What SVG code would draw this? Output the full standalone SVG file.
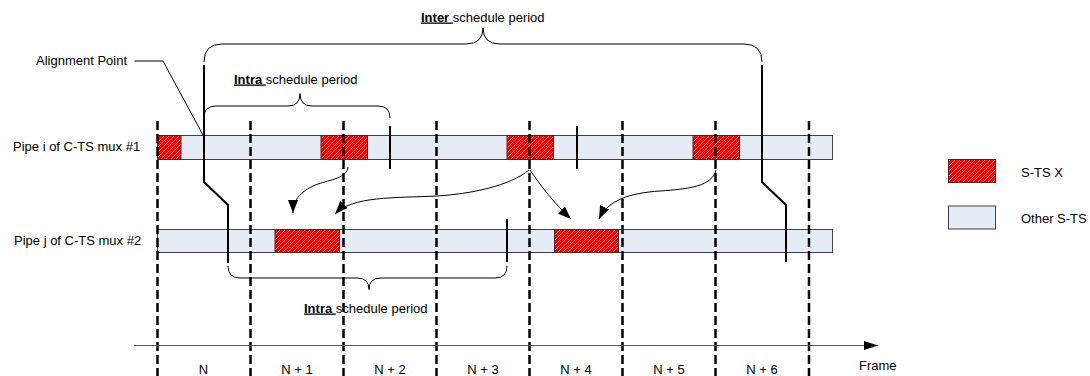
<svg xmlns="http://www.w3.org/2000/svg" width="1090" height="376" viewBox="0 0 1090 376">
<defs>
<pattern id="hatch" patternUnits="userSpaceOnUse" width="5" height="5">
<rect width="5" height="5" fill="#FF0000"/>
<path d="M-1,6 L6,-1 M-1,1 L1,-1 M4,6 L6,4" stroke="#FFB0B0" stroke-width="0.7"/>
</pattern>
<marker id="ah" markerUnits="userSpaceOnUse" markerWidth="13" markerHeight="10" refX="13" refY="5" orient="auto">
<path d="M0,0 L13,5 L0,10 z" fill="#000"/>
</marker>
<marker id="axh" markerUnits="userSpaceOnUse" markerWidth="14" markerHeight="9" refX="14" refY="4.5" orient="auto">
<path d="M0,0 L14,4.5 L0,9 z" fill="#000"/>
</marker>
</defs>
<style>
text{font-family:"Liberation Sans",Arial,sans-serif;font-size:13px;fill:#000}
.pipe{fill:#E6ECF6;stroke:#404040;stroke-width:1}
.sts{fill:url(#hatch);stroke:#303030;stroke-width:1}
.dash{stroke:#000;stroke-width:2.5;stroke-dasharray:9 4;fill:none}
.thick{stroke:#000;stroke-width:2;fill:none}
.thin{stroke:#000;stroke-width:1;fill:none}
.arr{stroke:#000;stroke-width:1;fill:none;marker-end:url(#ah)}
.b{font-weight:bold;text-decoration:underline}
.mid{text-anchor:middle}
</style>

<g id="pipe1">
<rect class="pipe" x="157.5" y="135.5" width="675" height="24"/>
<rect class="sts" x="157.5" y="135.5" width="23.5" height="24"/>
<rect class="sts" x="321" y="135.5" width="46.5" height="24"/>
<rect class="sts" x="507" y="135.5" width="46.5" height="24"/>
<rect class="sts" x="693" y="135.5" width="46.5" height="24"/>
<text x="13" y="151">Pipe i of C-TS mux #1</text>
</g>

<g id="pipe2">
<rect class="pipe" x="157.5" y="229.5" width="675" height="23"/>
<rect class="sts" x="275" y="229.5" width="64.5" height="23"/>
<rect class="sts" x="554.5" y="229.5" width="64" height="23"/>
<text x="14" y="245">Pipe j of C-TS mux #2</text>
</g>

<g id="frames">
<path class="dash" d="M157.5,121 V376 M250.5,121 V376 M343.5,121 V376 M436.5,121 V376 M529.5,121 V376 M622.5,121 V376 M715.5,121 V376 M809,121 V376"/>
<text class="mid" x="203.5" y="374">N</text>
<text class="mid" x="297" y="374">N + 1</text>
<text class="mid" x="390" y="374">N + 2</text>
<text class="mid" x="483" y="374">N + 3</text>
<text class="mid" x="576" y="374">N + 4</text>
<text class="mid" x="669" y="374">N + 5</text>
<text class="mid" x="762" y="374">N + 6</text>
</g>

<g id="axis">
<path d="M134,345.5 L878,345.5" stroke="#555" stroke-width="1.2" fill="none" marker-end="url(#axh)"/>
<text x="859" y="369.5">Frame</text>
</g>

<g id="inter-period">
<path class="thin" d="M204,62 Q204,44 222,44 L466,44 Q483,44 483,28 Q483,44 500,44 L744,44 Q762,44 762,62"/>
<text x="421" y="21.5"><tspan class="b">Inter </tspan>schedule period</text>
</g>

<g id="intra-period-top">
<path class="thin" d="M204,117 Q204,106 216,106 L288,106 Q300,106 300,93.5 Q300,106 312,106 L378,106 Q390,106 390,118"/>
<text x="234" y="83.5"><tspan class="b">Intra </tspan>schedule period</text>
</g>

<g id="intra-period-bottom">
<path class="thin" d="M228,266 Q228,278 240,278 L357,278 Q369,278 369,289.5 Q369,278 381,278 L495,278 Q507,278 507,266"/>
<text x="304" y="312.5"><tspan class="b">Intra </tspan>schedule period</text>
</g>

<g id="alignment">
<text x="36" y="64.5">Alignment Point</text>
<path class="thin" d="M134.5,61 L163,61 L203,135"/>
</g>

<g id="legend">
<rect class="sts" x="948.5" y="159.5" width="47" height="23"/>
<text x="1021" y="176.5">S-TS X</text>
<rect class="pipe" x="948.5" y="206" width="47" height="23"/>
<text x="1021" y="223">Other S-TS</text>
</g>

<g id="connectors">
<path class="thick" d="M204,65 L204,182 L228,205 L228,263"/>
<path class="thick" d="M762,65 L762,182 L786,205 L786,262"/>
<path class="thick" d="M390,126 V169 M577,126 V169 M507,219 V262"/>
<path class="arr" d="M348,167 C347,178 330,180 318,184 C302,190 293,199 293,213"/>
<path class="arr" d="M529,170 C510,186 470,194 437,196 C395,198 352,196 335,214"/>
<path class="arr" d="M530,170 C540,185 555,204 571,219"/>
<path class="arr" d="M716,170 C712,186 690,189 660,191 C630,193 608,200 599,219"/>
</g>
</svg>
